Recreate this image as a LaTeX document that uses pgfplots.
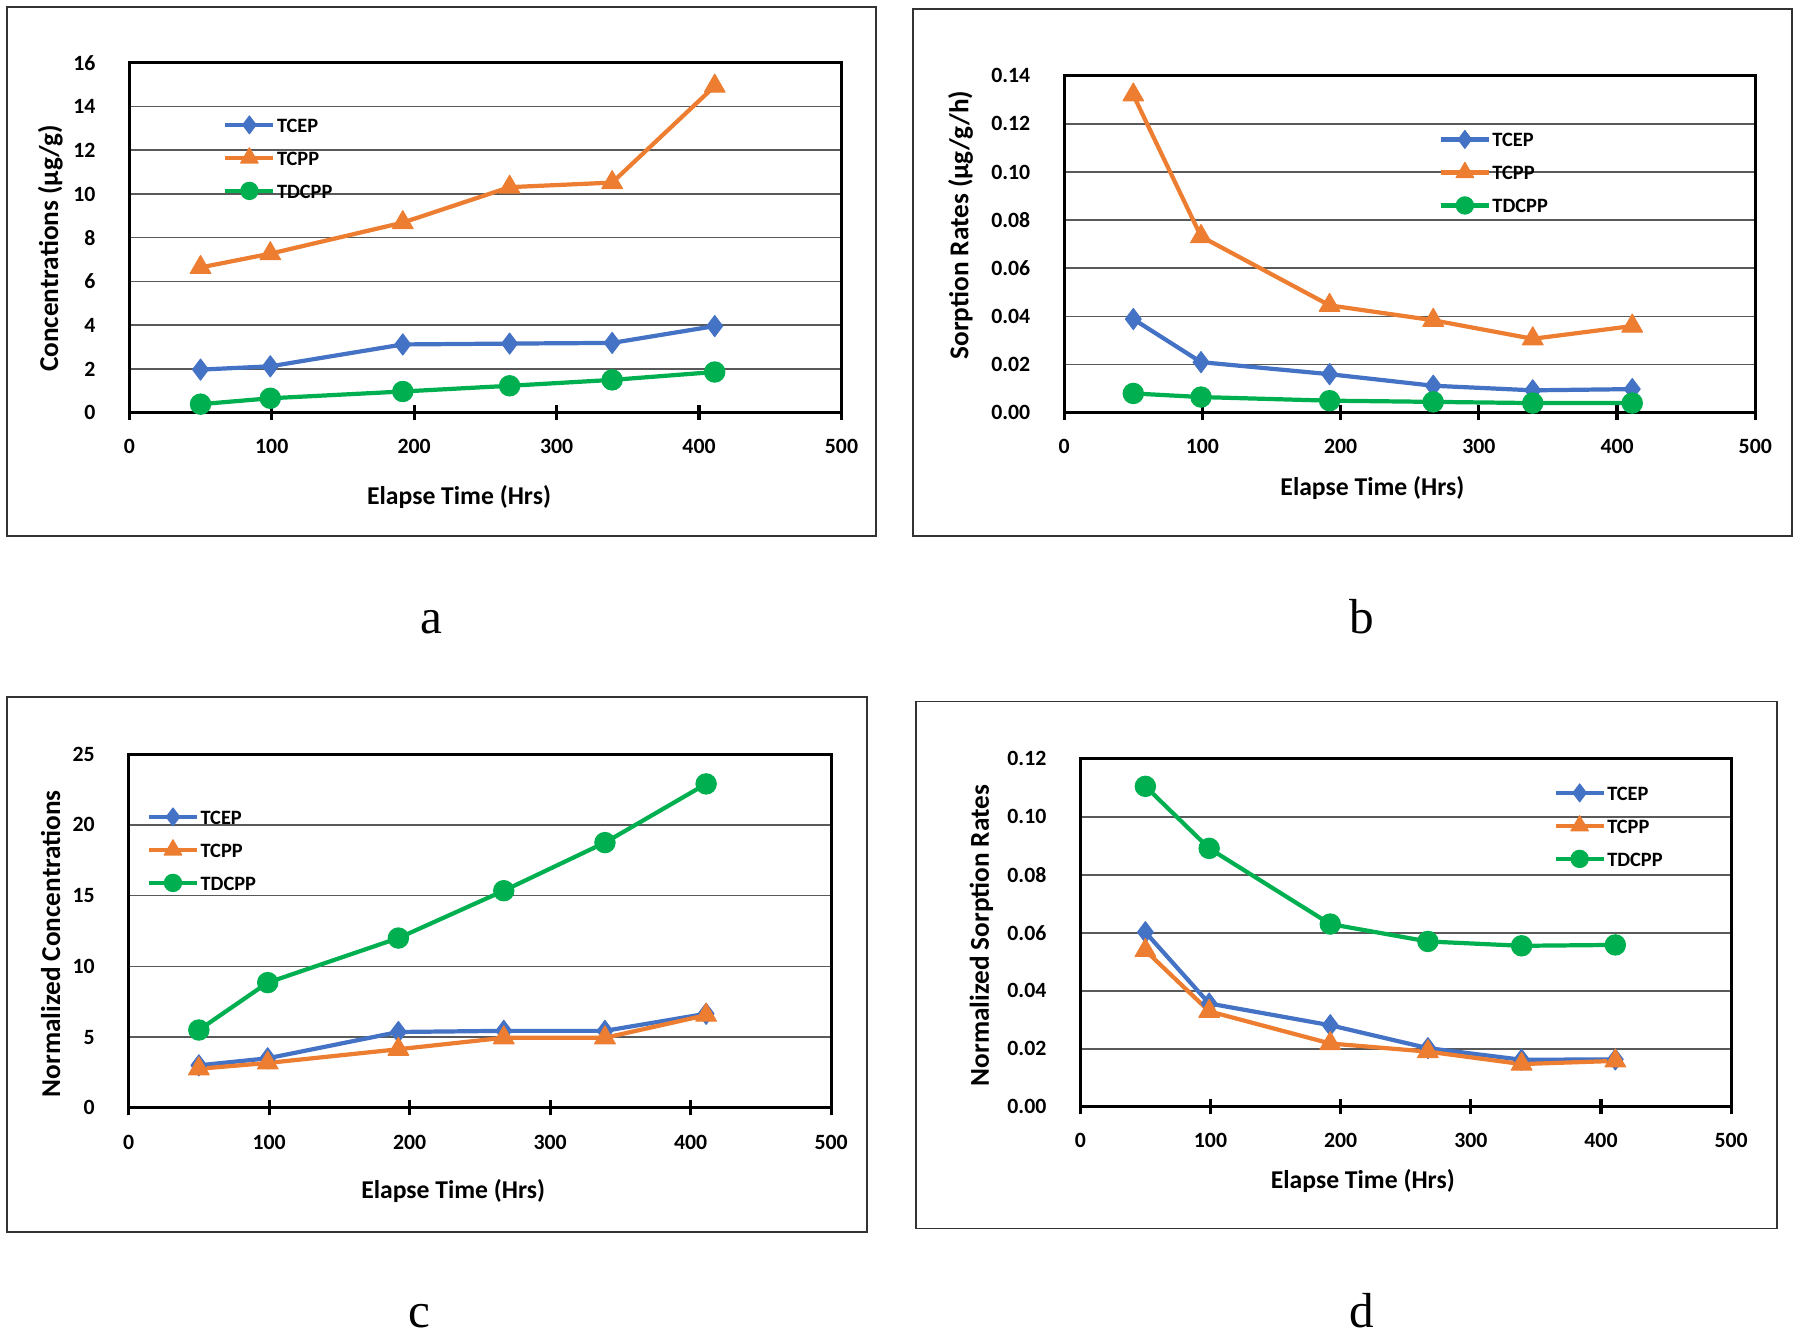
\documentclass[border=0pt]{standalone}
\usepackage{fontspec}
\setmainfont{Carlito}
\newfontfamily\timesf{Liberation Serif}
\usepackage{pgfplots}
\pgfplotsset{compat=1.18}

\definecolor{tcep}{RGB}{68,114,196}
\definecolor{tcpp}{RGB}{237,125,49}
\definecolor{tdcpp}{RGB}{0,176,80}

\newcommand\tickfont{\bfseries\fontsize{6.2}{7}\selectfont}
\newcommand\labfont{\bfseries\fontsize{7.3}{8.5}\selectfont}
\newcommand\ylabfont{\bfseries\fontsize{7.75}{9}\selectfont}
\newcommand\legfont{\bfseries\fontsize{5.8}{7}\selectfont}

% tick marks crossing the bottom axis line
\newcommand\bottomticks{%
  \pgfplotsinvokeforeach{0,100,200,300,400,500}{%
    \draw[line width=0.9pt, black] ([yshift=-0.75mm]axis cs:##1,0) -- ([yshift=0.75mm]axis cs:##1,0);}}

% one px of the reference = 0.1mm
\pgfplotsset{
  panel/.style={
    scale only axis,
    clip=false,
    xmin=0, xmax=500,
    xtick={0,100,...,500},
    ymin=0,
    scaled y ticks=false,
    /pgf/number format/assume math mode=true,
    tick label style={font=\tickfont},
    yticklabel style={xshift=-1.4mm},
    xticklabel style={yshift=-0.7mm},
    xlabel style={font=\labfont},
    ylabel style={font=\ylabfont},
    axis line style={line width=0.8pt},
    ymajorgrids,
    major grid style={line width=0.45pt, black!65},
    tick style={line width=0.9pt, black},
    tick align=center,
    major tick length=1.5mm,
    xtick pos=bottom,
    ytick pos=left,
    major y tick style={draw=none},
    every axis plot/.append style={line width=1.2pt, line join=round},
    legend style={draw=none, fill=none, font=\legfont, inner sep=0pt,
      row sep=0.8mm, cells={anchor=west},
      nodes={text height=1.5mm, text depth=0mm, inner ysep=0.5mm, inner xsep=0.15mm}},
    legend image code/.code={
      \draw[mark repeat=2, mark phase=2, #1, every mark/.append style={scale=0.85}]
        plot coordinates {(0mm,0mm) (2.4mm,0mm) (4.8mm,0mm)};
    },
  },
  tcepst/.style={color=tcep, mark=diamond*, mark size=3pt, mark options={line width=0.3pt}},
  tcppst/.style={color=tcpp, mark=triangle*, mark size=3.4pt, mark options={line width=0.3pt}},
  tdcppst/.style={color=tdcpp, mark=*, mark size=2.9pt, mark options={line width=0.3pt}},
}

\begin{document}
\begin{tikzpicture}
\path[use as bounding box] (0,0) rectangle (180mm,133.5mm);

% panel frames
\draw[line width=0.5pt, black!80] (0.69mm,79.9mm) rectangle (87.6mm,132.81mm);
\draw[line width=0.5pt, black!80] (91.27mm,79.9mm) rectangle (179.2mm,132.58mm);
\draw[line width=0.5pt, black!80] (0.69mm,10.32mm) rectangle (86.67mm,63.82mm);
\draw[line width=0.5pt, black!80] (91.6mm,10.66mm) rectangle (177.7mm,63.36mm);

% a
\begin{axis}[panel,
  at={(12.93mm,92.23mm)}, anchor=south west,
  width=71.22mm, height=35mm,
  ymax=16, ytick={0,2,...,16},
  xlabel={Elapse Time (Hrs)}, ylabel={Concentrations (µg/g)},
  xlabel style={at={(axis description cs:0.463,-0.241)}, anchor=center},
  ylabel style={at={(axis description cs:-0.111,0.47)}, anchor=center},
  legend style={at={(axis description cs:0.131,0.86)}, anchor=north west},
]
\bottomticks
\addplot[tcepst] coordinates {(50,1.97) (99,2.12) (192,3.12) (267,3.16) (339,3.19) (411,3.96)};
\addplot[tcppst] coordinates {(50,6.64) (99,7.27) (192,8.69) (267,10.31) (339,10.52) (411,14.93)};
\addplot[tdcppst] coordinates {(50,0.39) (99,0.66) (192,0.97) (267,1.23) (339,1.5) (411,1.86)};
\legend{TCEP,TCPP,TDCPP}
\end{axis}

% b
\begin{axis}[panel,
  at={(106.42mm,92.23mm)}, anchor=south west,
  width=69.11mm, height=33.7mm,
  ymax=0.14, ytick={0,0.02,...,0.141},
  yticklabel style={/pgf/number format/.cd, fixed, fixed zerofill, precision=2},
  xlabel={Elapse Time (Hrs)}, ylabel={Sorption Rates (µg/g/h)},
  xlabel style={at={(axis description cs:0.446,-0.223)}, anchor=center},
  ylabel style={at={(axis description cs:-0.150,0.557)}, anchor=center},
  legend style={at={(axis description cs:0.541,0.85)}, anchor=north west},
]
\bottomticks
\addplot[tcepst] coordinates {(50,0.0389) (99,0.0210) (192,0.0160) (267,0.0112) (339,0.0093) (411,0.0098)};
\addplot[tcppst] coordinates {(50,0.1320) (99,0.0732) (192,0.0446) (267,0.0384) (339,0.0307) (411,0.0360)};
\addplot[tdcppst] coordinates {(50,0.0080) (99,0.0065) (192,0.0050) (267,0.0045) (339,0.0040) (411,0.0040)};
\legend{TCEP,TCPP,TDCPP}
\end{axis}

% c
\begin{axis}[panel,
  at={(12.86mm,22.72mm)}, anchor=south west,
  width=70.26mm, height=35.36mm,
  ymax=25, ytick={0,5,...,25},
  xlabel={Elapse Time (Hrs)}, ylabel={Normalized Concentrations},
  xlabel style={at={(axis description cs:0.462,-0.234)}, anchor=center},
  ylabel style={at={(axis description cs:-0.111,0.464)}, anchor=center},
  legend style={at={(axis description cs:0.025,0.86)}, anchor=north west},
]
\bottomticks
\addplot[tcepst] coordinates {(50,3.0) (99,3.5) (192,5.36) (267,5.44) (339,5.44) (411,6.65)};
\addplot[tcppst] coordinates {(50,2.76) (99,3.17) (192,4.14) (267,4.95) (339,4.95) (411,6.55)};
\addplot[tdcppst] coordinates {(50,5.5) (99,8.85) (192,12.0) (267,15.35) (339,18.75) (411,22.9)};
\legend{TCEP,TCPP,TDCPP}
\end{axis}

% d
\begin{axis}[panel,
  at={(108.03mm,22.83mm)}, anchor=south west,
  width=65.09mm, height=34.79mm,
  ymax=0.12, ytick={0,0.02,...,0.121},
  yticklabel style={/pgf/number format/.cd, fixed, fixed zerofill, precision=2},
  xlabel={Elapse Time (Hrs)}, ylabel={Normalized Sorption Rates},
  xlabel style={at={(axis description cs:0.434,-0.214)}, anchor=center},
  ylabel style={at={(axis description cs:-0.152,0.492)}, anchor=center},
  legend style={at={(axis description cs:0.726,0.94)}, anchor=north west},
]
\bottomticks
\addplot[tcepst] coordinates {(50,0.0602) (99,0.0356) (192,0.0281) (267,0.0202) (339,0.0162) (411,0.0163)};
\addplot[tcppst] coordinates {(50,0.0539) (99,0.0329) (192,0.0218) (267,0.0190) (339,0.0147) (411,0.0158)};
\addplot[tdcppst] coordinates {(50,0.1105) (99,0.0891) (192,0.0630) (267,0.0570) (339,0.0555) (411,0.0558)};
\legend{TCEP,TCPP,TDCPP}
\end{axis}

% panel letters
\node[font=\timesf\fontsize{14}{16}\selectfont, anchor=base] at (43.1mm,70.2mm) {a};
\node[font=\timesf\fontsize{14}{16}\selectfont, anchor=base] at (136.2mm,70.2mm) {b};
\node[font=\timesf\fontsize{14}{16}\selectfont, anchor=base] at (41.9mm,0.8mm) {c};
\node[font=\timesf\fontsize{14}{16}\selectfont, anchor=base] at (136.2mm,0.8mm) {d};
\end{tikzpicture}
\end{document}
